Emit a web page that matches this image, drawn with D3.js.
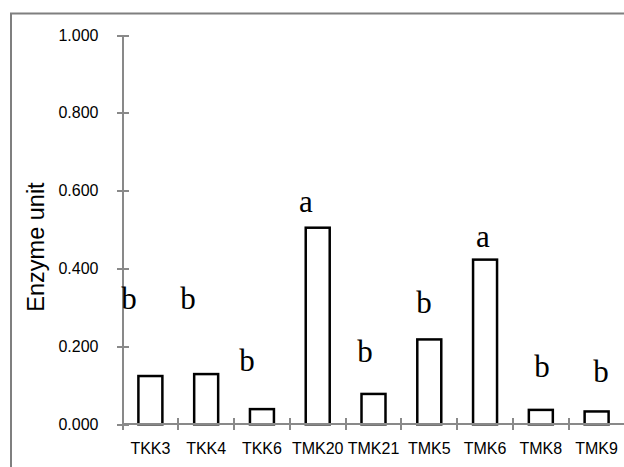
<!DOCTYPE html>
<meta charset="utf-8">
<html>
<head>
  <title>Enzyme unit</title>
</head>
<style>
body {
    margin: 0;
    background: #ffffff;
}
.axis path,
.axis line {
    fill: none;
    stroke: #898989;
    stroke-width: 2;
    shape-rendering: crispEdges;
}
.axis text {
    font-size: 16px;
    font-family: "Liberation Sans", Arial, sans-serif;
    fill: #000;
}
.bar {
    fill: #ffffff;
    stroke: #000000;
    stroke-width: 2.5;
}
.letter {
    font-size: 31px;
    font-family: "Liberation Serif", "Times New Roman", serif;
    fill: #000;
}
</style>
<body>

<svg id="my_dataviz" width="624" height="467"></svg>

<script src="https://d3js.org/d3.v7.min.js"></script>
<script>

// data
var strains = ["TKK3", "TKK4", "TKK6", "TMK20", "TMK21", "TMK5", "TMK6", "TMK8", "TMK9"];
var enzyme = [0.124, 0.129, 0.039, 0.505, 0.078, 0.218, 0.423, 0.037, 0.033];
var letters = ["b", "b", "b", "a", "b", "b", "a", "b", "b"];
// height (in enzyme units) where each letter sits
var letterAt = [0.296, 0.296, 0.137, 0.546, 0.159, 0.285, 0.455, 0.122, 0.109];
var yTicks = [0, 0.2, 0.4, 0.6, 0.8, 1.0];

var svg = d3.select("#my_dataviz");

// chart area frame (cut off on the right and bottom)
svg.append("rect")
    .attr("x", 11)
    .attr("y", 13.5)
    .attr("width", 700)
    .attr("height", 600)
    .style("fill", "none")
    .style("stroke", "#7f7f7f")
    .style("stroke-width", 2);

var x = d3.scaleBand()
    .domain(strains)
    .range([122.5, 624.5])
    .paddingInner(0.57)
    .paddingOuter(0.285);

// the letters were placed by hand, a bit off the bar centres
var xl = d3.scalePoint()
    .domain(strains)
    .range([129, 601]);

var y = d3.scaleLinear()
    .domain([0, 1])
    .range([424.3, 35]);

// bars
svg.append("g")
  .selectAll("rect")
  .data(enzyme)
  .enter()
  .append("rect")
    .attr("class", "bar")
    .attr("x", function (d, i) { return x(strains[i]); })
    .attr("y", function (d) { return y(d); })
    .attr("width", x.bandwidth())
    .attr("height", function (d) { return y(0) - y(d); });

// Y axis
svg.append("g")
    .attr("class", "axis")
    .attr("transform", "translate(122.5,0)")
    .call(d3.axisLeft(y).tickValues(yTicks).tickFormat(d3.format(".3f"))
      .tickSizeInner(6).tickSizeOuter(0).tickPadding(18))
  .call(function (g) {
      g.selectAll(".tick line").attr("x1", 6).attr("x2", -6);
  });

// X axis, ticks between categories
var xb = d3.scaleLinear().domain([0, strains.length]).range(x.range());
var xAxis = svg.append("g")
    .attr("class", "axis")
    .attr("transform", "translate(0," + y(0) + ")");
xAxis.append("line")
    .attr("x1", xb(0)).attr("x2", xb(strains.length));
xAxis.selectAll(".tk")
  .data(d3.range(strains.length + 1))
  .enter()
  .append("line")
    .attr("x1", function (d) { return xb(d); })
    .attr("x2", function (d) { return xb(d); })
    .attr("y1", -6)
    .attr("y2", 6);
xAxis.selectAll("text")
  .data(strains)
  .enter()
  .append("text")
    .attr("x", function (d) { return x(d) + x.bandwidth() / 2; })
    .attr("y", 30)
    .style("text-anchor", "middle")
    .text(function (d) { return d; });

// text label for the y axis
svg.append("text")
    .attr("transform", "translate(44,247) rotate(-90)")
    .style("text-anchor", "middle")
    .style("font-family", "'Liberation Sans', Arial, sans-serif")
    .style("font-size", "23.5px")
    .text("Enzyme unit");

// significance letters
svg.append("g")
  .selectAll("text")
  .data(letters)
  .enter()
  .append("text")
    .attr("class", "letter")
    .attr("x", function (d, i) { return xl(strains[i]); })
    .attr("y", function (d, i) { return y(letterAt[i]); })
    .style("text-anchor", "middle")
    .text(function (d) { return d; });

</script>
</body>
</html>
